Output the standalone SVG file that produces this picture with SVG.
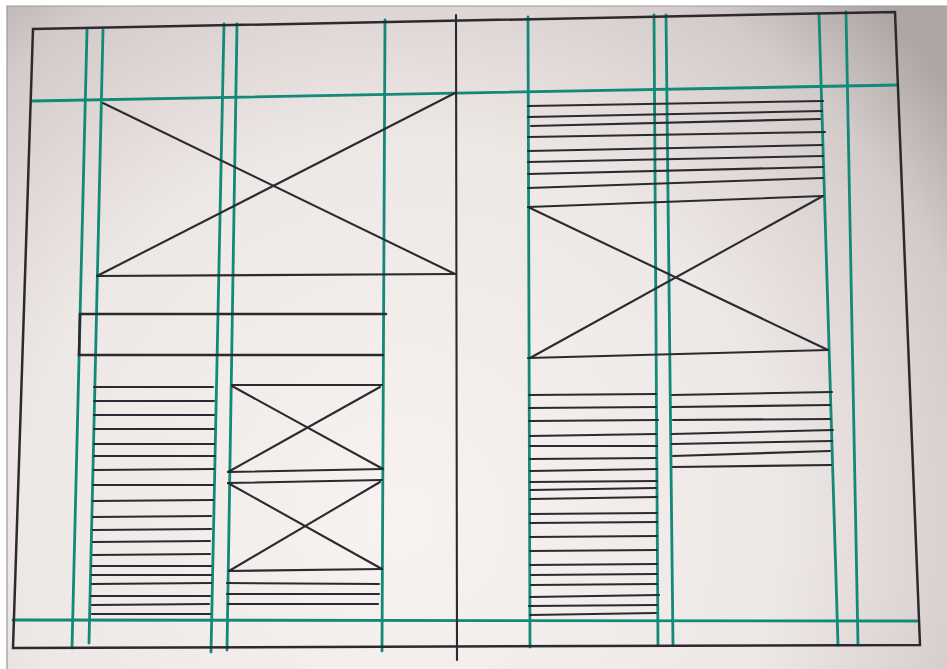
<svg xmlns="http://www.w3.org/2000/svg" width="947" height="669" viewBox="0 0 947 669">
<defs>
<radialGradient id="paper" gradientUnits="userSpaceOnUse" cx="400" cy="520" r="700">
<stop offset="0" stop-color="#f8f3f1"/>
<stop offset="0.55" stop-color="#ede7e5"/>
<stop offset="0.85" stop-color="#d3cbc9"/>
<stop offset="1" stop-color="#aea6a4"/>
</radialGradient>
<style>
.g{stroke:#128979;stroke-width:2.8;fill:none;stroke-linecap:round}
.k{stroke:#2c2a30;stroke-width:2.1;fill:none;stroke-linecap:round}
.kt{stroke:#2c2a30;stroke-width:2.5;fill:none;stroke-linecap:round}
</style>
</defs>
<rect x="0" y="0" width="947" height="669" fill="#ffffff"/>
<rect x="7" y="6" width="940" height="663" fill="url(#paper)"/>
<path d="M7 669 L7 6 L947 6" stroke="#9a9a9a" stroke-width="1.2" fill="none"/>

<g id="grid">
<line class="g" x1="32" y1="101" x2="898" y2="85"/>
<line class="g" x1="13" y1="620" x2="917" y2="621"/>
<line class="g" x1="87" y1="30" x2="72" y2="648"/>
<line class="g" x1="103" y1="30" x2="89" y2="643"/>
<line class="g" x1="224" y1="24" x2="211" y2="652"/>
<line class="g" x1="237" y1="24" x2="227" y2="650"/>
<line class="g" x1="385" y1="20" x2="382" y2="651"/>
<line class="g" x1="528" y1="17" x2="530" y2="647"/>
<line class="g" x1="654" y1="15" x2="658" y2="645"/>
<line class="g" x1="666" y1="15" x2="673" y2="645"/>
<line class="g" x1="819" y1="14" x2="838" y2="645"/>
<line class="g" x1="846" y1="12" x2="858" y2="645"/>
</g>

<g id="frame">
<path class="kt" d="M33 29 L895 12 L920 645 L13 648 Z"/>
<line class="k" x1="456" y1="15" x2="457" y2="660"/>
</g>

<g id="hero-image">
<line class="k" x1="97" y1="276" x2="455" y2="274"/>
<line class="k" x1="103" y1="103" x2="455" y2="274"/>
<line class="k" x1="97" y1="276" x2="455" y2="93"/>
</g>

<g id="bar">
<path class="kt" d="M386 314 L80 314 L79 355 L383 355"/>
</g>

<g id="left-text">
<line class="k" x1="94" y1="387" x2="213" y2="387"/>
<line class="k" x1="94" y1="401" x2="214" y2="401"/>
<line class="k" x1="94" y1="415" x2="214" y2="415"/>
<line class="k" x1="94" y1="429" x2="214" y2="429"/>
<line class="k" x1="94" y1="444" x2="214" y2="444"/>
<line class="k" x1="94" y1="456" x2="215" y2="456"/>
<line class="k" x1="94" y1="470" x2="214" y2="469"/>
<line class="k" x1="93" y1="485" x2="213" y2="485"/>
<line class="k" x1="93" y1="501" x2="213" y2="500"/>
<line class="k" x1="93" y1="517" x2="211" y2="516"/>
<line class="k" x1="93" y1="530" x2="211" y2="529"/>
<line class="k" x1="93" y1="542" x2="210" y2="541"/>
<line class="k" x1="93" y1="555" x2="210" y2="554"/>
<line class="k" x1="92" y1="566" x2="211" y2="566"/>
<line class="k" x1="92" y1="575" x2="211" y2="575"/>
<line class="k" x1="92" y1="584" x2="211" y2="583"/>
<line class="k" x1="91" y1="596" x2="210" y2="596"/>
<line class="k" x1="92" y1="605" x2="209" y2="604"/>
<line class="k" x1="92" y1="614" x2="210" y2="614"/>
</g>

<g id="mid-images">
<line class="k" x1="232" y1="385" x2="382" y2="385"/>
<line class="k" x1="228" y1="472" x2="383" y2="469"/>
<line class="k" x1="232" y1="386" x2="383" y2="469"/>
<line class="k" x1="228" y1="472" x2="380" y2="387"/>
<line class="k" x1="228" y1="483" x2="382" y2="480"/>
<line class="k" x1="229" y1="571" x2="382" y2="569"/>
<line class="k" x1="228" y1="483" x2="382" y2="569"/>
<line class="k" x1="229" y1="571" x2="380" y2="482"/>
<line class="k" x1="227" y1="583" x2="379" y2="584"/>
<line class="k" x1="227" y1="594" x2="379" y2="594"/>
<line class="k" x1="228" y1="604" x2="378" y2="604"/>
</g>

<g id="right-text-top">
<line class="k" x1="528" y1="106" x2="823" y2="101"/>
<line class="k" x1="528" y1="117" x2="822" y2="111"/>
<line class="k" x1="531" y1="126" x2="820" y2="119"/>
<line class="k" x1="528" y1="137" x2="825" y2="132"/>
<line class="k" x1="528" y1="151" x2="822" y2="145"/>
<line class="k" x1="528" y1="162" x2="823" y2="156"/>
<line class="k" x1="528" y1="174" x2="823" y2="167"/>
<line class="k" x1="528" y1="188" x2="823" y2="178"/>
</g>

<g id="right-image">
<line class="k" x1="528" y1="207" x2="823" y2="196"/>
<line class="k" x1="528" y1="358" x2="828" y2="350"/>
<line class="k" x1="528" y1="207" x2="828" y2="350"/>
<line class="k" x1="530" y1="358" x2="823" y2="196"/>
</g>

<g id="right-text-left">
<line class="k" x1="529" y1="395" x2="656" y2="394"/>
<line class="k" x1="529" y1="408" x2="656" y2="407"/>
<line class="k" x1="529" y1="421" x2="658" y2="420"/>
<line class="k" x1="530" y1="436" x2="656" y2="434"/>
<line class="k" x1="530" y1="446" x2="657" y2="446"/>
<line class="k" x1="530" y1="459" x2="656" y2="458"/>
<line class="k" x1="530" y1="471" x2="657" y2="469"/>
<line class="k" x1="530" y1="482" x2="657" y2="481"/>
<line class="k" x1="530" y1="490" x2="656" y2="488"/>
<line class="k" x1="530" y1="499" x2="657" y2="497"/>
<line class="k" x1="530" y1="514" x2="657" y2="513"/>
<line class="k" x1="530" y1="523" x2="657" y2="522"/>
<line class="k" x1="530" y1="537" x2="657" y2="536"/>
<line class="k" x1="530" y1="551" x2="657" y2="550"/>
<line class="k" x1="530" y1="565" x2="657" y2="564"/>
<line class="k" x1="531" y1="575" x2="657" y2="574"/>
<line class="k" x1="531" y1="585" x2="657" y2="584"/>
<line class="k" x1="530" y1="597" x2="659" y2="595"/>
<line class="k" x1="529" y1="606" x2="657" y2="605"/>
<line class="k" x1="530" y1="615" x2="656" y2="613"/>
</g>

<g id="right-text-right">
<line class="k" x1="672" y1="395" x2="832" y2="392"/>
<line class="k" x1="672" y1="407" x2="830" y2="405"/>
<line class="k" x1="673" y1="420" x2="830" y2="419"/>
<line class="k" x1="672" y1="434" x2="833" y2="430"/>
<line class="k" x1="672" y1="444" x2="832" y2="441"/>
<line class="k" x1="673" y1="456" x2="830" y2="451"/>
<line class="k" x1="673" y1="467" x2="831" y2="465"/>
</g>
</svg>
